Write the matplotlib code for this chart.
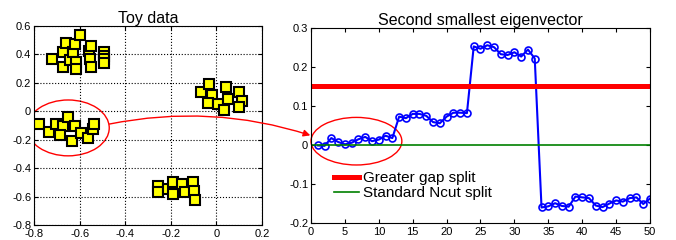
import numpy as np
import matplotlib.pyplot as plt
from matplotlib.patches import Ellipse, ConnectionPatch

plt.rcParams['font.family'] = ['Liberation Sans', 'DejaVu Sans']

# toy data, four clusters
clusterTopLeftX = [-0.72, -0.675, -0.675, -0.66, -0.643, -0.63, -0.62, -0.615, -0.615,
                   -0.60, -0.558, -0.548, -0.555, -0.552, -0.494, -0.494, -0.494, -0.494]
clusterTopLeftY = [0.37, 0.31, 0.415, 0.48, 0.36, 0.42, 0.475, 0.35, 0.295,
                   0.535, 0.425, 0.46, 0.37, 0.31, 0.415, 0.39, 0.365, 0.34]

clusterMidLeftX = [-0.779, -0.735, -0.705, -0.675, -0.687, -0.653, -0.633, -0.621,
                   -0.596, -0.562, -0.543, -0.536]
clusterMidLeftY = [-0.091, -0.147, -0.086, -0.105, -0.169, -0.043, -0.209, -0.105,
                   -0.150, -0.188, -0.128, -0.091]

clusterRightX = [-0.067, -0.032, -0.018, -0.035, 0.006, 0.042, 0.049, 0.034, 0.100, 0.112, 0.097]
clusterRightY = [0.134, 0.191, 0.115, 0.061, 0.049, 0.174, 0.089, 0.009, 0.136, 0.073, 0.032]

clusterBottomX = [-0.255, -0.255, -0.211, -0.189, -0.189, -0.149, -0.137, -0.104, -0.098, -0.093]
clusterBottomY = [-0.523, -0.571, -0.547, -0.495, -0.583, -0.512, -0.571, -0.500, -0.564, -0.625]

# second smallest eigenvector, entries 1..50
eigenvector = [-0.002, -0.003, 0.017, 0.007, 0.001, 0.005, 0.014, 0.020, 0.009, 0.013,
               0.023, 0.017, 0.072, 0.068, 0.079, 0.079, 0.074, 0.058, 0.055, 0.072,
               0.082, 0.082, 0.081, 0.252, 0.246, 0.255, 0.250, 0.232, 0.230, 0.237,
               0.226, 0.244, 0.221, -0.161, -0.158, -0.150, -0.157, -0.159, -0.133, -0.135,
               -0.137, -0.156, -0.160, -0.151, -0.143, -0.146, -0.137, -0.135, -0.152, -0.138]

GAPSPLIT = 0.15
NCUTSPLIT = 0.0


fig = plt.figure(figsize=(6.76, 2.4), dpi=100)
axLeft = fig.add_axes([34/676, 1 - 225/240, 228/676, 199/240])
axRight = fig.add_axes([311/676, 1 - 222.7/240, 339/676, 195/240])

# left: toy data
allX = clusterTopLeftX + clusterMidLeftX + clusterRightX + clusterBottomX
allY = clusterTopLeftY + clusterMidLeftY + clusterRightY + clusterBottomY
axLeft.plot(allX, allY, 's', color='yellow', markeredgecolor='black',
            markeredgewidth=1.5, markersize=7.5)
axLeft.set_xlim(-0.8, 0.2)
axLeft.set_ylim(-0.8, 0.6)
axLeft.set_xticks(np.arange(-0.8, 0.21, 0.2))
axLeft.set_yticks(np.arange(-0.8, 0.61, 0.2))
axLeft.set_xticklabels(['-0.8', '-0.6', '-0.4', '-0.2', '0', '0.2'])
axLeft.set_yticklabels(['-0.8', '-0.6', '-0.4', '-0.2', '0', '0.2', '0.4', '0.6'])
axLeft.grid(True, linestyle=':', color='black', linewidth=0.8)
axLeft.set_title('Toy data', fontsize=11.5, pad=2)
axLeft.add_patch(Ellipse((-0.65, -0.117), 0.36, 0.393, fill=False, edgecolor='red', linewidth=1))

# right: eigenvector
idx = np.arange(1, len(eigenvector) + 1)
axRight.plot(idx, eigenvector, '-o', color='blue', markerfacecolor='none',
             markersize=5, linewidth=1.5, markeredgewidth=1.2)
axRight.axhline(GAPSPLIT, color='red', linewidth=3.6, label='Greater gap split')
axRight.axhline(NCUTSPLIT, color='green', linewidth=1.2, label='Standard Ncut split')
axRight.set_xlim(0, 50)
axRight.set_ylim(-0.2, 0.3)
axRight.set_xticks(np.arange(0, 51, 5))
axRight.set_yticks(np.arange(-0.2, 0.31, 0.1))
axRight.set_yticklabels(['-0.2', '-0.1', '0', '0.1', '0.2', '0.3'])
axRight.set_title('Second smallest eigenvector', fontsize=11.5, pad=2)
axRight.add_patch(Ellipse((6.7, 0.009), 13.4, 0.122, fill=False, edgecolor='red',
                          linewidth=1, clip_on=False))
axRight.legend(loc='upper left', bbox_to_anchor=(0.05, 0.295), frameon=False, fontsize=11,
               handlelength=1.6, handletextpad=0.3, labelspacing=0.05, borderaxespad=0)

for ax in (axLeft, axRight):
    ax.tick_params(direction='in', top=True, right=True, labelsize=8, length=3)
    ax.tick_params(axis='x', pad=3)
    ax.tick_params(axis='y', pad=2)
    for sp in ax.spines.values():
        sp.set_linewidth(0.8)

# arrow from the circled cluster to the circled part of the eigenvector
arrow = ConnectionPatch(xyA=(-0.47, -0.09), coordsA=axLeft.transData,
                        xyB=(-0.1, 0.024), coordsB=axRight.transData,
                        arrowstyle='-|>', color='red', linewidth=1,
                        connectionstyle='arc3,rad=-0.13', mutation_scale=10)
fig.add_artist(arrow)

plt.savefig('out.png', dpi=100)
